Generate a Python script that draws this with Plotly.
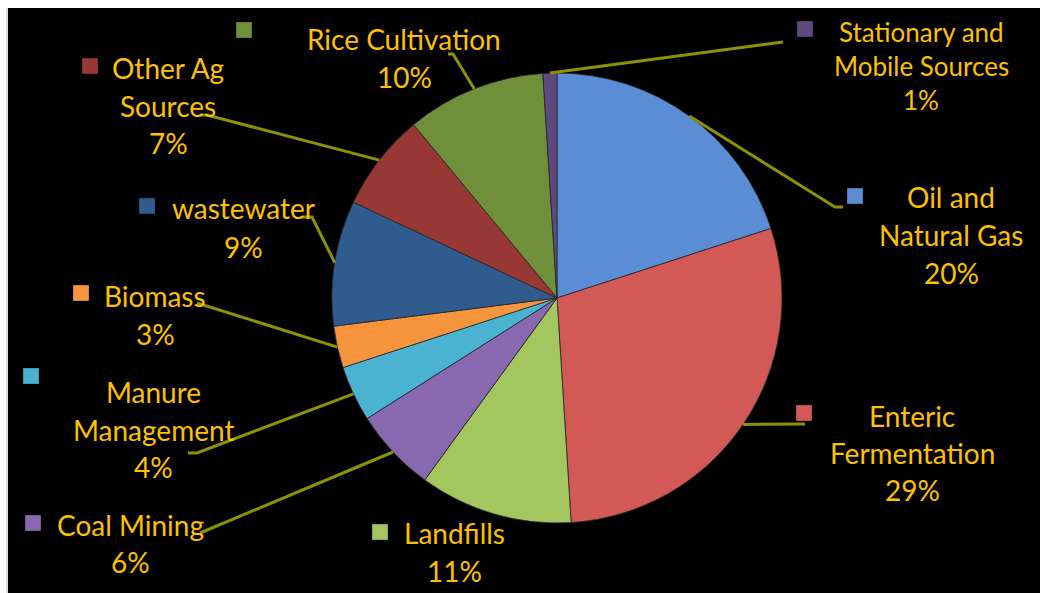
import math
import plotly.graph_objects as go

# ---- data ----
categories = ["Oil and Natural Gas", "Enteric Fermentation", "Landfills", "Coal Mining",
              "Manure Management", "Biomass", "wastewater", "Other Ag Sources",
              "Rice Cultivation", "Stationary and Mobile Sources"]
values = [20, 29, 11, 6, 4, 3, 9, 7, 10, 1]
label_lines = [["Oil and", "Natural Gas"], ["Enteric", "Fermentation"], ["Landfills"],
               ["Coal Mining"], ["Manure", "Management"], ["Biomass"], ["wastewater"],
               ["Other Ag", "Sources"], ["Rice Cultivation"], ["Stationary and", "Mobile Sources"]]

# ---- styles / positions (pixel coordinates) ----
colors = ["#5A8DD4", "#D25956", "#A4C65E", "#8868AE", "#4AB3D2", "#F7953F",
          "#2F5B8E", "#973835", "#6F8F3B", "#5F4A80"]
W, H = 1040, 593
CX, CY, R = 557, 298, 225
TEXT = "#FFC000"
LEADER = "#8C9200"
FONT = "Lato"
FS = 28

# text block: center x, first line y, line gap
text_pos = [(951, 197, 38), (912, 416, 37), (454, 533, 38), (130, 525, 37),
            (153, 392, 37.5), (155, 296, 38), (243, 208, 39), (168, 68, 37.5),
            (404, 39, 38), (921, 32, 34)]
font_sizes = [FS, FS, FS, FS, FS, FS, FS, FS, FS, 26]
key_pos = [(855, 196), (804, 413), (380, 532), (33, 523), (31, 376), (81, 293),
           (147, 206), (90, 66), (244, 30), (805, 29)]
leader_pts = [[(835, 207), (843, 207)], [(805, 424)], [], [(200, 533)],
              [(197, 453), (188, 453)], [(197, 303)], [(312, 217), (302, 217)],
              [(207, 115), (200, 115)], [(453, 54), (448, 54)], [(783, 42)]]

fig = go.Figure()
fig.add_trace(go.Pie(
    labels=categories, values=values, sort=False, direction="clockwise", rotation=0,
    marker=dict(colors=colors, line=dict(color="rgba(40,40,40,0.8)", width=1)),
    textinfo="none", hoverinfo="label+percent", showlegend=False,
    domain=dict(x=[(CX - R) / W, (CX + R) / W], y=[1 - (CY + R) / H, 1 - (CY - R) / H]),
))

shapes = [
    dict(type="rect", xref="x", yref="y", x0=8, x1=W, y0=8, y1=H, layer="below",
         fillcolor="black", line=dict(width=0)),
    dict(type="line", xref="x", yref="y", x0=7, x1=7, y0=8, y1=H, layer="below",
         line=dict(color="#BBBBBB", width=1)),
]
annotations = []
total = sum(values)
cum = 0
for i, v in enumerate(values):
    mid = (cum + v / 2) / total * 2 * math.pi
    cum += v
    pct = f"{round(v / total * 100)}%"
    sx, sy = CX + R * math.sin(mid), CY - R * math.cos(mid)
    pts = [(sx, sy)] + leader_pts[i]
    if len(pts) > 1:
        path = "M " + " L ".join(f"{x:.1f},{y:.1f}" for x, y in pts)
        shapes.append(dict(type="path", xref="x", yref="y", path=path,
                           line=dict(color=LEADER, width=3)))
    kx, ky = key_pos[i]
    shapes.append(dict(type="rect", xref="x", yref="y", x0=kx - 8, x1=kx + 8,
                       y0=ky - 8, y1=ky + 8, fillcolor=colors[i],
                       line=dict(color="rgba(0,0,0,0.3)", width=1)))
    tx, ty, gap = text_pos[i]
    lines = label_lines[i] + [pct]
    for j, t in enumerate(lines):
        annotations.append(dict(x=tx, y=ty + j * gap, xref="x", yref="y", text=t,
                                showarrow=False, xanchor="center", yanchor="middle",
                                font=dict(family=FONT, size=font_sizes[i], color=TEXT)))

fig.update_layout(
    width=W, height=H, margin=dict(l=0, r=0, t=0, b=0),
    paper_bgcolor="white", plot_bgcolor="rgba(0,0,0,0)",
    xaxis=dict(range=[0, W], visible=False, fixedrange=True),
    yaxis=dict(range=[H, 0], visible=False, fixedrange=True),
    shapes=shapes, annotations=annotations,
)
fig.write_html("out.html")
